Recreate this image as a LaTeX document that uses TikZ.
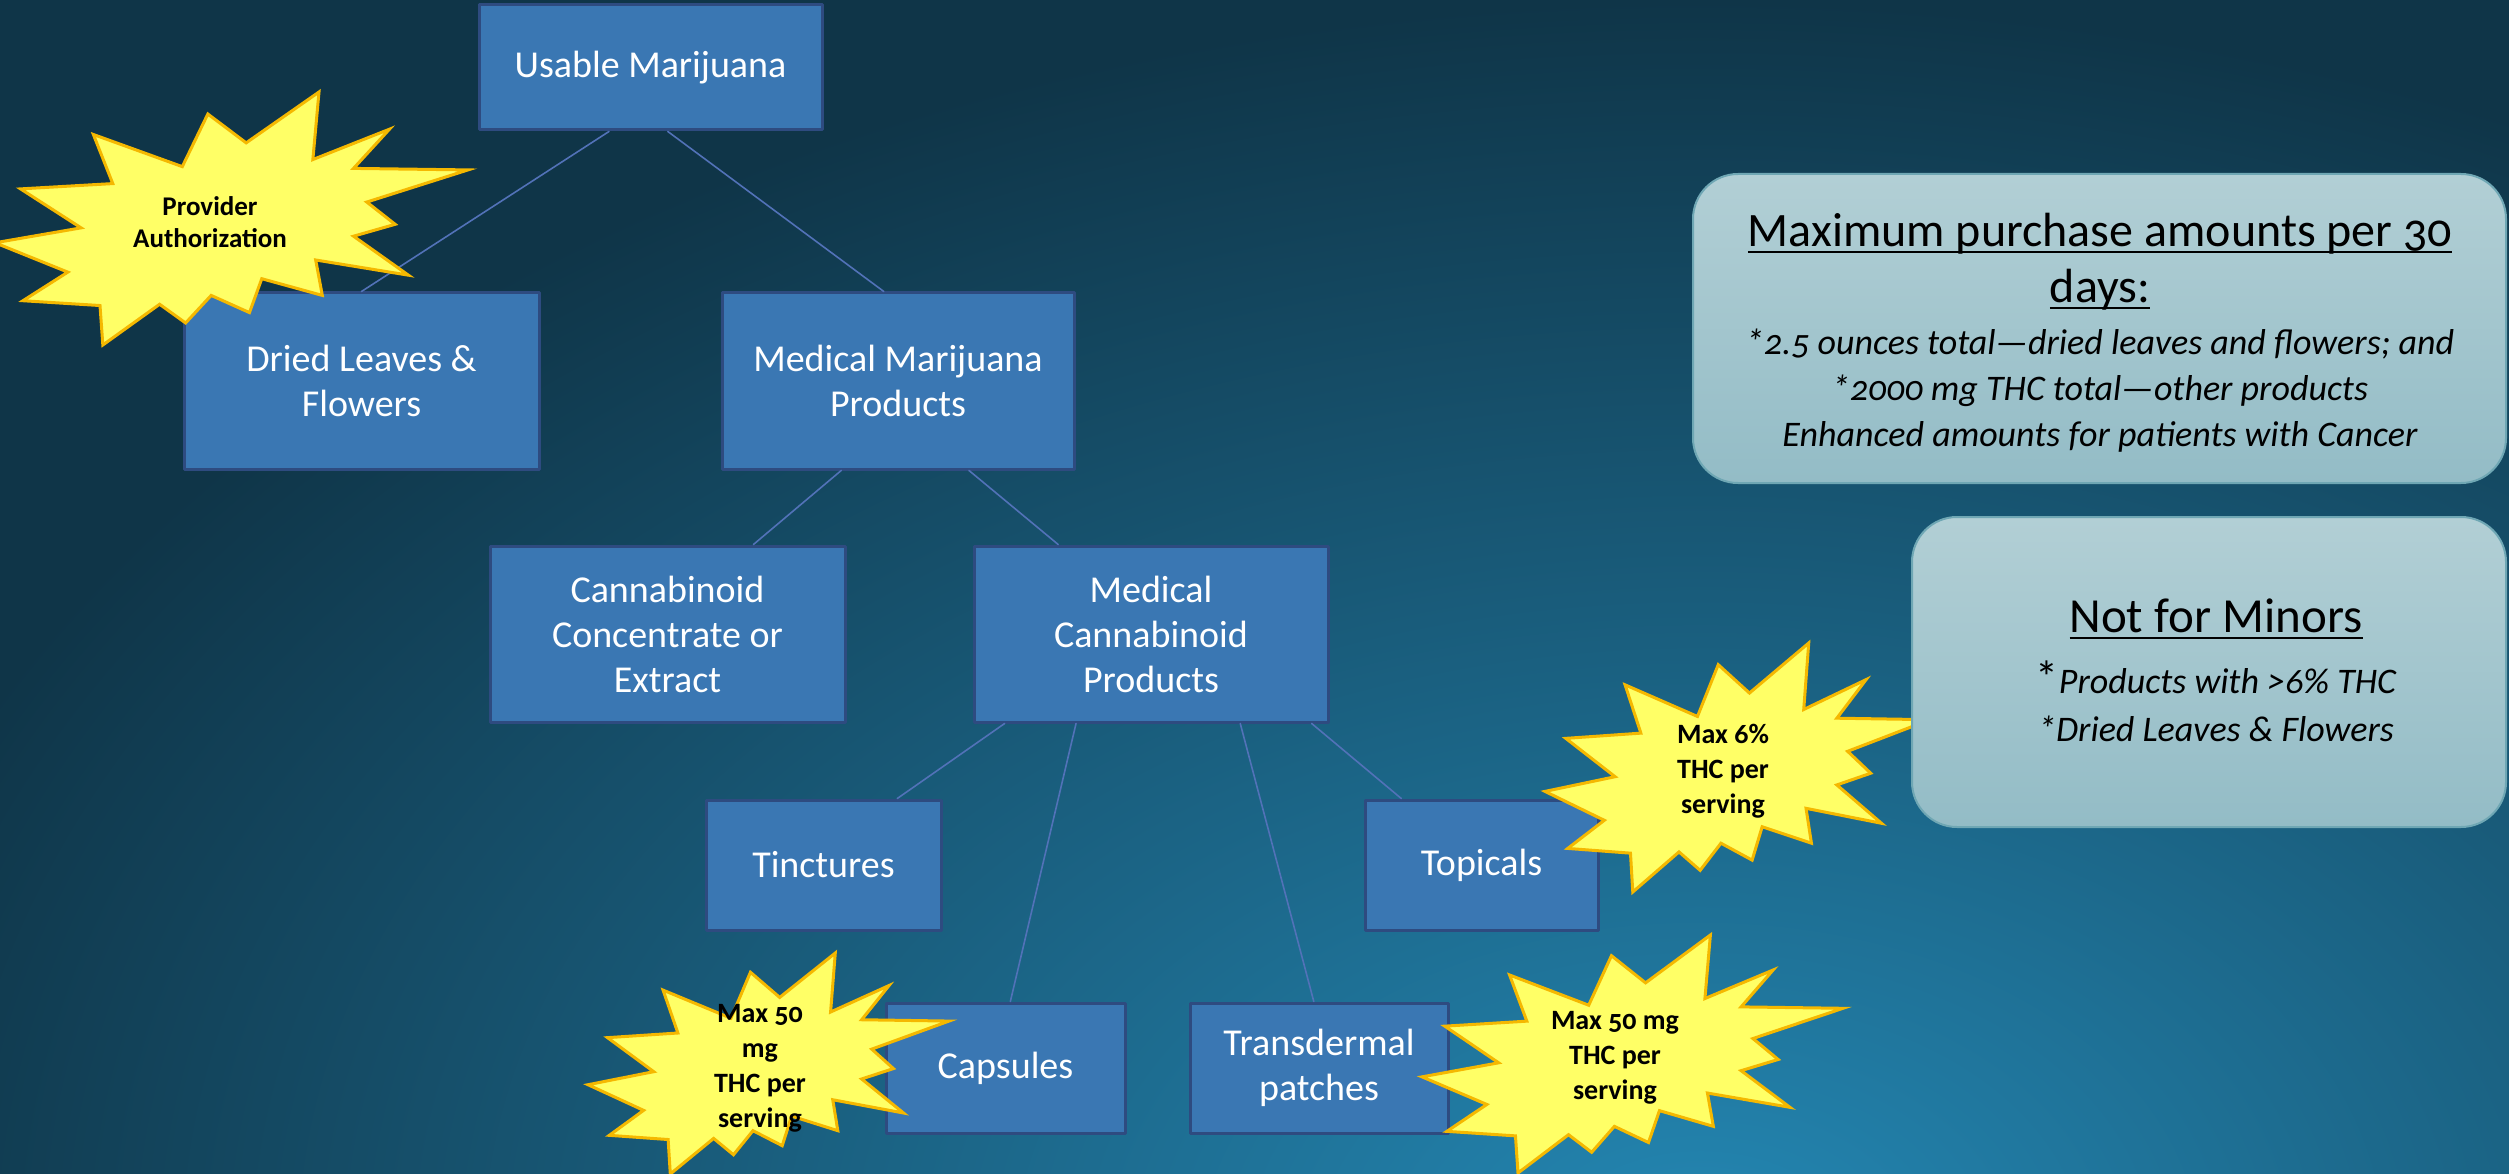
\documentclass[tikz,border=0pt]{standalone}
\usepackage{fontspec}
\setmainfont{Carlito}
\newfontfamily\notefont[Numbers=OldStyle]{Carlito}
\usetikzlibrary{calc}

\definecolor{bgdark}{HTML}{0F3548}
\definecolor{bglight}{HTML}{2487B3}
\definecolor{boxblue}{HTML}{3A77B3}
\definecolor{boxedge}{HTML}{2E4B80}
\definecolor{linkblue}{HTML}{5272B8}
\definecolor{burstfill}{HTML}{FFFF66}
\definecolor{burstedge}{HTML}{F5B800}
\definecolor{notetop}{HTML}{B2CFD5}
\definecolor{notebot}{HTML}{93BCC6}
\definecolor{noteedge}{HTML}{6FA7B4}

% underline drawn as a rule under the word
\newcommand{\undl}[1]{\leavevmode\setbox0=\hbox{#1}\rlap{\rule[-0.13em]{\wd0}{0.05em}}\box0}

% explosion outline, top left corner (#1,#2), width #3, height #4
\newcommand{\burstshape}[4]{%
  \begin{scope}[shift={(#1,#2)},xscale=#3,yscale=#4]
    \path[burst] (0.531,0.201) -- (0.685,0) -- (0.672,0.267) -- (0.834,0.147)
      -- (0.758,0.302) -- (1,0.308) -- (0.786,0.435) -- (0.846,0.523)
      -- (0.758,0.570) -- (0.874,0.724) -- (0.678,0.664) -- (0.692,0.804)
      -- (0.564,0.738) -- (0.538,0.872) -- (0.457,0.804) -- (0.403,0.913)
      -- (0.348,0.839) -- (0.228,1) -- (0.222,0.844) -- (0.059,0.825)
      -- (0.154,0.712) -- (0,0.596) -- (0.182,0.537) -- (0.054,0.383)
      -- (0.249,0.362) -- (0.208,0.168) -- (0.396,0.295) -- (0.450,0.087) -- cycle;
  \end{scope}}

\tikzset{
  blk/.style={draw=boxedge,line width=3pt,fill=boxblue,text=white,align=center,
    inner sep=0pt,font=\fontsize{38}{45}\selectfont},
  link/.style={draw=linkblue,line width=1.6pt},
  burst/.style={fill=burstfill,draw=burstedge,line width=3pt,line join=miter},
  bursttext/.style={align=center,text=black,inner sep=0pt,
    font=\notefont\bfseries\fontsize{28}{35}\selectfont},
  note/.style={draw=noteedge,line width=2pt,top color=notetop,bottom color=notebot,
    rounded corners=45pt,inner sep=0pt},
  notehead/.style={align=center,text=black,inner sep=0pt},
}

\begin{document}
\begin{tikzpicture}[x=1pt,y=-1pt,line cap=round,line join=round]
  \useasboundingbox (0,0) rectangle (2509,1174);
  % background
  \fill[bgdark] (0,0) rectangle (2509,1174);
  \begin{scope}
    \clip (0,0) rectangle (2509,1174);
    \shade[inner color=bglight,outer color=bgdark] (1700,1250) ellipse [x radius=1900,y radius=1250];
  \end{scope}

  % hierarchy
  \node[blk,minimum width=343pt,minimum height=125pt] (um) at (650.5,67.5) {Usable Marijuana};
  \node[blk,minimum width=355pt,minimum height=176pt] (dlf) at (361.5,381) {Dried Leaves \&\\Flowers};
  \node[blk,minimum width=352pt,minimum height=176pt] (mmp) at (898,381) {Medical Marijuana\\Products};
  \node[blk,minimum width=355pt,minimum height=176pt] (cce) at (667.5,634) {Cannabinoid\\Concentrate or\\Extract};
  \node[blk,minimum width=354pt,minimum height=176pt] (mcp) at (1151,634) {Medical\\Cannabinoid\\Products};
  \node[blk,minimum width=235pt,minimum height=130pt] (tinc) at (823.5,865) {Tinctures};
  \node[blk,minimum width=233pt,minimum height=130pt] (topi) at (1481.5,865) {Topicals};
  \node[blk,minimum width=239pt,minimum height=130pt] (caps) at (1005.5,1068) {Capsules};
  \node[blk,minimum width=258pt,minimum height=130pt] (trans) at (1319,1068) {Transdermal\\patches};

  \draw[link] ($(um.south west)!.38!(um.south east)$) -- ($(dlf.north west)!.50!(dlf.north east)$);
  \draw[link] ($(um.south west)!.55!(um.south east)$) -- ($(mmp.north west)!.46!(mmp.north east)$);
  \draw[link] ($(mmp.south west)!.34!(mmp.south east)$) -- ($(cce.north west)!.74!(cce.north east)$);
  \draw[link] ($(mmp.south west)!.70!(mmp.south east)$) -- ($(mcp.north west)!.24!(mcp.north east)$);
  \draw[link] ($(mcp.south west)!.09!(mcp.south east)$) -- ($(tinc.north west)!.81!(tinc.north east)$);
  \draw[link] ($(mcp.south west)!.29!(mcp.south east)$) -- ($(caps.north west)!.52!(caps.north east)$);
  \draw[link] ($(mcp.south west)!.75!(mcp.south east)$) -- ($(trans.north west)!.48!(trans.north east)$);
  \draw[link] ($(mcp.south west)!.95!(mcp.south east)$) -- ($(topi.north west)!.16!(topi.north east)$);

  % explosions
  \burstshape{-5}{92}{473}{253}
  \node[bursttext,font=\notefont\bfseries\fontsize{27}{32}\selectfont] (auth) at (210,222) {Provider\\Authorization};
  \burstshape{1545}{643}{385}{249}
  \node[bursttext] (six) at (1723,771) {Max 6\%\\THC per\\serving};
  \burstshape{588}{953}{361}{221}
  \node[bursttext] (capsmax) at (760,1068) {Max 50\\mg\\THC per\\serving};
  \burstshape{1422}{935}{421}{238}
  \node[bursttext] (transmax) at (1615,1058) {Max 50 mg\\THC per\\serving};

  % notes on the right
  \node[note,minimum width=813pt,minimum height=309pt] (buy) at (2099.5,328.5) {};
  \node[notehead,font=\notefont\fontsize{48}{56}\selectfont] (buyhead) at (2100,262)
    {\undl{Maximum purchase amounts per 30}\\\undl{days:}};
  \node[notehead,font=\notefont\itshape\fontsize{36}{46}\selectfont] (buybody) at (2100,391)
    {*2.5 ounces total—dried leaves and flowers; and\\*2000 mg THC total—other products\\Enhanced amounts for patients with Cancer};
  \node[note,minimum width=594pt,minimum height=310pt] (minor) at (2209,672) {};
  \node[notehead,font=\notefont\fontsize{49}{59}\selectfont] (minorhead) at (2216,619) {\undl{Not for Minors}};
  \node[notehead,font=\notefont\itshape\fontsize{36}{48}\selectfont] (minorbody) at (2216,701)
    {{\upshape\fontsize{46}{48}\selectfont*}Products with >6\% THC\\*Dried Leaves \& Flowers};
\end{tikzpicture}
\end{document}
